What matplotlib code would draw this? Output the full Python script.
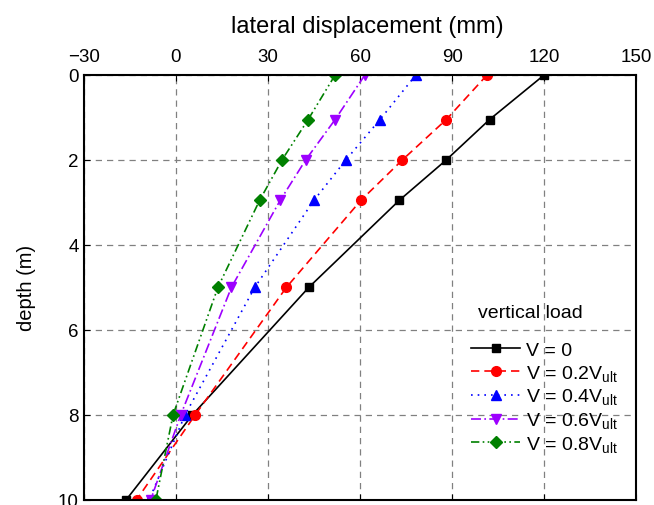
import numpy as np
from matplotlib import pyplot as plt

plt.rcParams['font.family'] = ['Liberation Sans', 'DejaVu Sans']
plt.rcParams['mathtext.fontset'] = 'custom'
plt.rcParams['mathtext.rm'] = 'Liberation Sans'
plt.rcParams['mathtext.it'] = 'Liberation Sans'

depth = [0, 1.05, 2, 2.95, 5, 8, 10]

disp_v0 = [120, 102.2, 88.1, 72.8, 43.3, 5.4, -16.2]
disp_v02 = [101.4, 88.1, 73.8, 60.3, 36.0, 6.3, -12.8]
disp_v04 = [78.2, 66.5, 55.4, 45.0, 25.7, 3.0, -8.7]
disp_v06 = [61.6, 51.9, 42.3, 34.0, 18.1, 1.6, -8.2]
disp_v08 = [51.9, 43.1, 34.6, 27.3, 13.7, -0.9, -6.5]

labels = ['V = 0', r'V = 0.2V$_{\mathrm{ult}}$', r'V = 0.4V$_{\mathrm{ult}}$',
          r'V = 0.6V$_{\mathrm{ult}}$', r'V = 0.8V$_{\mathrm{ult}}$']

fig = plt.figure(figsize=(6.54, 5.06), dpi=100)
ax = fig.add_axes([0.128, 0.01, 0.845, 0.84])

ax.plot(disp_v0, depth, color='black', linestyle='-', marker='s', markersize=6, linewidth=1.2, label=labels[0])
ax.plot(disp_v02, depth, color='red', linestyle=(0, (5, 3)), marker='o', markersize=7, linewidth=1.2, label=labels[1])
ax.plot(disp_v04, depth, color='blue', linestyle=(0, (1, 3)), marker='^', markersize=7, linewidth=1.2, label=labels[2])
ax.plot(disp_v06, depth, color='#9d00ff', linestyle=(0, (6, 2, 1, 2)), marker='v', markersize=7, linewidth=1.2, label=labels[3])
ax.plot(disp_v08, depth, color='green', linestyle=(0, (5, 2, 1, 2, 1, 2)), marker='D', markersize=6, linewidth=1.2, label=labels[4])

ax.set_xlim(-30, 150)
ax.set_ylim(10, 0)
ax.set_xticks([-30, 0, 30, 60, 90, 120, 150])
ax.set_yticks([0, 2, 4, 6, 8, 10])
ax.xaxis.tick_top()
ax.xaxis.set_label_position('top')
ax.tick_params(direction='in', length=4, labelsize=13.5, top=True, bottom=True, left=True, right=False)
ax.tick_params(axis='x', pad=7)
ax.set_xlabel('lateral displacement (mm)', fontsize=17)
ax.xaxis.set_label_coords(0.513, 1.10)
ax.set_ylabel('depth (m)', fontsize=14.5, labelpad=16)

ax.grid(True, color='gray', linestyle=(0, (5, 4)), linewidth=0.9)

for s in ax.spines.values():
    s.set_linewidth(1.5)

ax.text(0.809, 0.441, 'vertical load', transform=ax.transAxes, fontsize=14,
        ha='center', va='center')
ax.legend(loc='upper left', bbox_to_anchor=(0.67, 0.415), frameon=False, fontsize=14,
          handlelength=2.5, handletextpad=0.3, labelspacing=0.2)

plt.savefig('out.png')
